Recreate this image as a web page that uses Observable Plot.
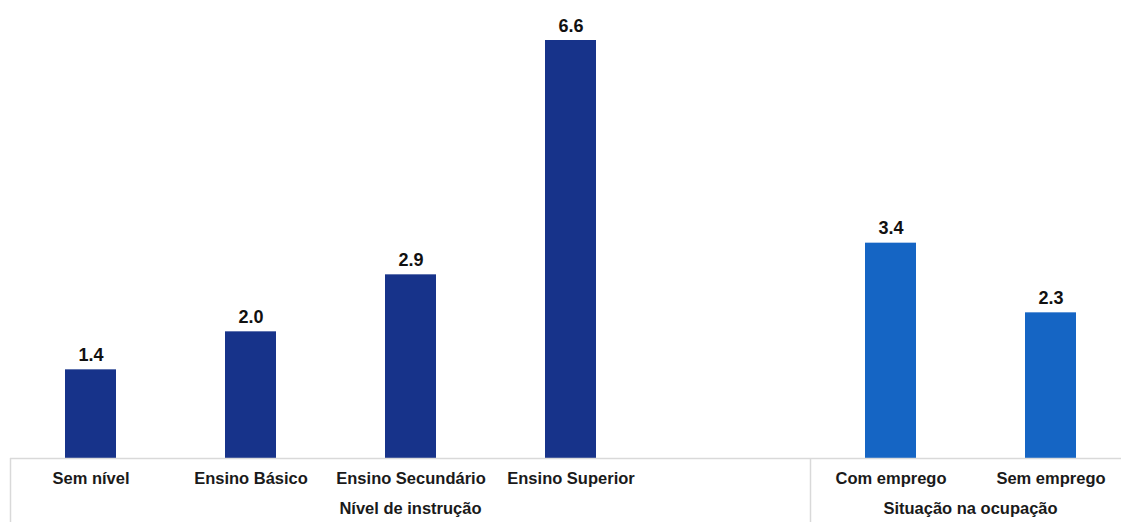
<!DOCTYPE html>
<html>
<head>
<meta charset="utf-8">
<script src="https://cdn.jsdelivr.net/npm/d3@7"></script>
<script src="https://cdn.jsdelivr.net/npm/@observablehq/plot@0.6"></script>
<style>
  html, body { margin: 0; padding: 0; background: #ffffff; overflow: hidden; }
  #chart { width: 1121px; height: 522px; }
  svg { font-family: "Liberation Sans", Arial, sans-serif; }
</style>
</head>
<body>
<div id="chart"></div>
<script>
// ---- data ----
const educationLevels = ["Sem nível", "Ensino Básico", "Ensino Secundário", "Ensino Superior"];
const educationValues = [1.4, 2.0, 2.9, 6.6];
const jobStatus = ["Com emprego", "Sem emprego"];
const jobValues = [3.4, 2.3];
const groupNames = ["Nível de instrução", "Situação na ocupação"];
const spacer = " ";

const darkBlue = "#17338a";
const lightBlue = "#1565c4";
const gridGrey = "#d9d9d9";

const rows = [
  ...educationLevels.map((c, i) => ({category: c, value: educationValues[i], group: groupNames[0]})),
  ...jobStatus.map((c, i) => ({category: c, value: jobValues[i], group: groupNames[1]}))
];
const slots = [...educationLevels, spacer, ...jobStatus];
const groups = [
  {name: groupNames[0], first: educationLevels[0], last: spacer},
  {name: groupNames[1], first: jobStatus[0], last: jobStatus[jobStatus.length - 1]}
];

// custom mark: group separators + group labels, positioned with Plot's scales
function groupAxis(index, scales, values, dimensions) {
  const x = scales.x, y = scales.y;
  const step = x.step(), bw = x.bandwidth();
  const off = (step - bw) / 2;
  const y0 = y(0);
  const g = d3.create("svg:g");
  const bounds = [];
  groups.forEach(gr => {
    const a = x(gr.first) - off;
    const b = x(gr.last) + bw + off;
    bounds.push(a, b);
    g.append("text")
      .attr("x", (a + b) / 2)
      .attr("y", y0 + 50)
      .attr("dy", "0.35em")
      .attr("text-anchor", "middle")
      .attr("font-size", 16.5)
      .attr("font-weight", "bold")
      .attr("fill", "#1a1a1a")
      .text(gr.name);
  });
  [...new Set(bounds.map(v => Math.round(v * 10) / 10))].forEach(bx => {
    g.append("line")
      .attr("x1", bx).attr("x2", bx)
      .attr("y1", y0).attr("y2", dimensions.height)
      .attr("stroke", gridGrey).attr("stroke-width", 1.5);
  });
  return g.node();
}

const chart = Plot.plot({
  width: 1121,
  height: 522,
  marginTop: 40,
  marginBottom: 64,
  marginLeft: 10,
  marginRight: -11,
  style: {fontFamily: "'Liberation Sans', Arial, sans-serif", background: "#ffffff", overflow: "hidden"},
  x: {type: "band", domain: slots, paddingInner: 0.68, paddingOuter: 0.34, align: 0.5},
  y: {domain: [0, 6.6], axis: null},
  marks: [
    Plot.barY(rows, {
      x: "category", y: "value",
      fill: d => d.group === groupNames[0] ? darkBlue : lightBlue
    }),
    Plot.ruleY([0], {stroke: gridGrey, strokeWidth: 1.5}),
    Plot.text(rows, {
      x: "category", y: "value",
      text: d => d.value.toFixed(1),
      lineAnchor: "bottom", dy: -9,
      fontSize: 18, fontWeight: "bold", fill: "#111111"
    }),
    Plot.axisX({
      tickSize: 0, tickPadding: 14, fontSize: 16.5, fontWeight: "bold",
      label: null, fill: "#1a1a1a"
    }),
    groupAxis
  ]
});
document.getElementById("chart").appendChild(chart);
</script>
</body>
</html>
